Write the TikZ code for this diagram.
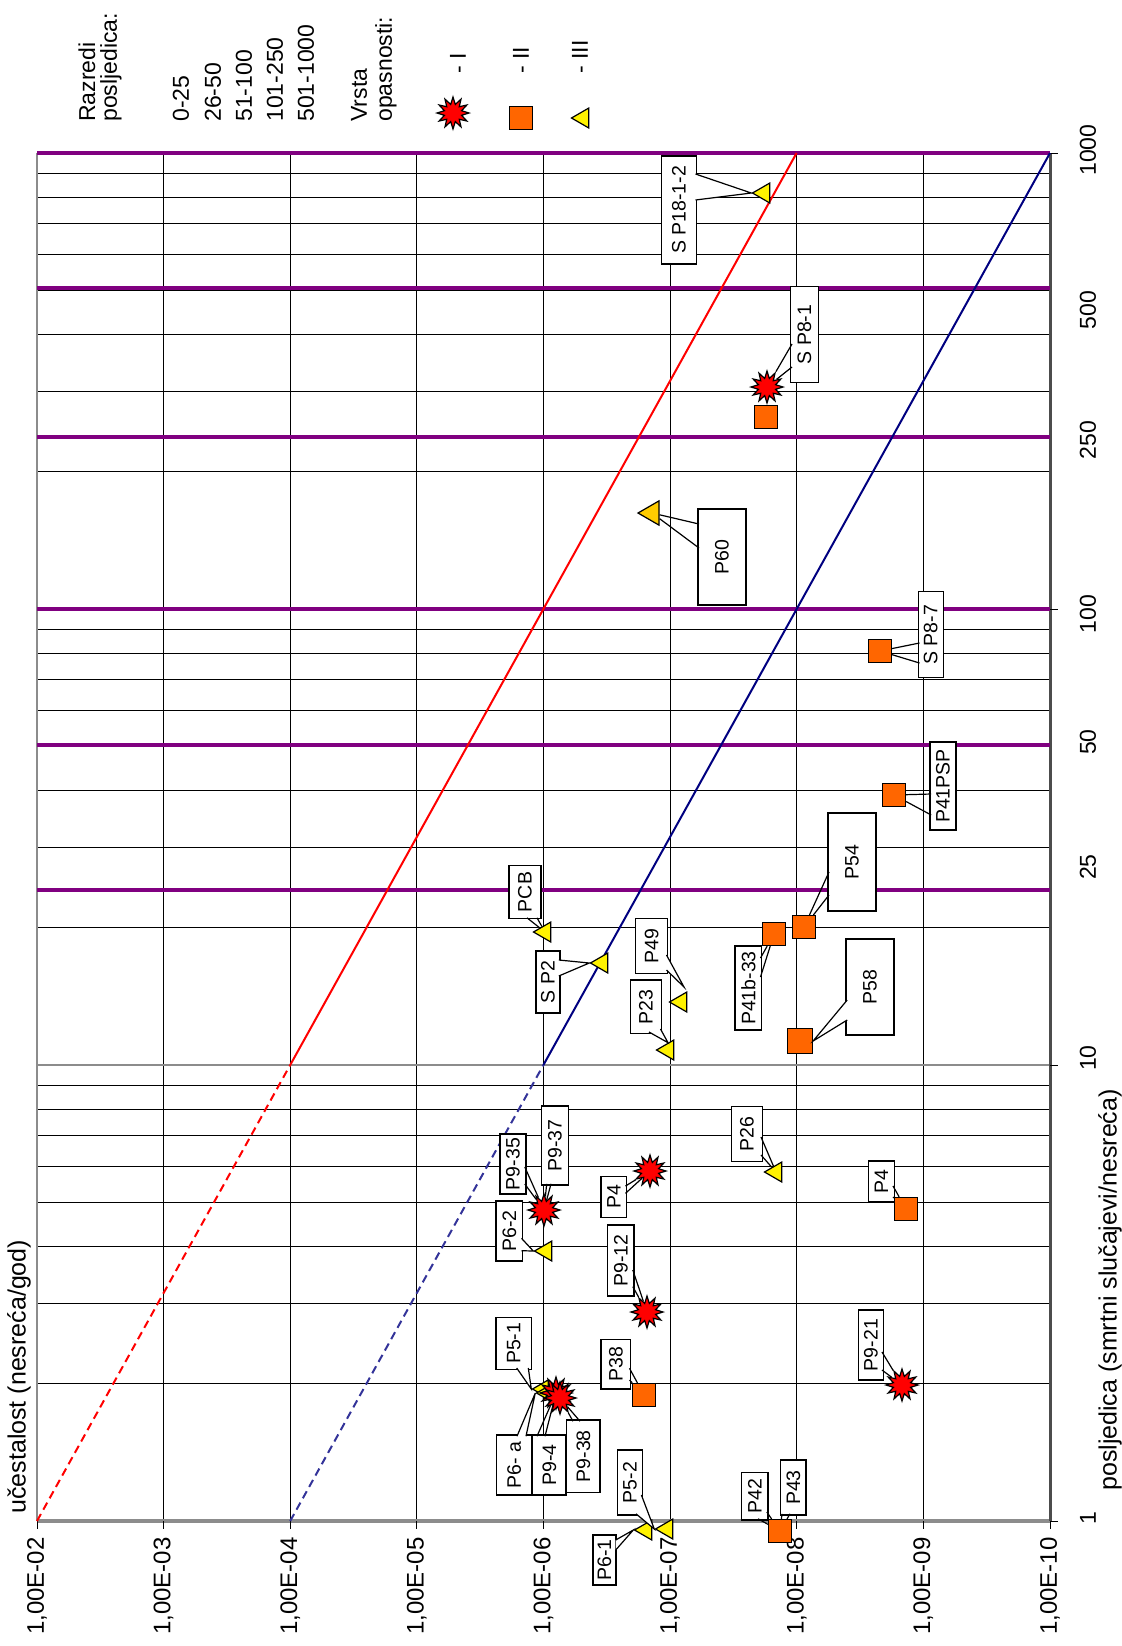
\documentclass[tikz,border=0pt]{standalone}
\usepackage{fontspec}
\setmainfont{Liberation Sans}
\usetikzlibrary{shapes.geometric, calc}
\definecolor{classpurple}{RGB}{128,0,128}
\definecolor{hazorange}{RGB}{255,102,0}
\definecolor{hazgold}{RGB}{255,204,0}
\definecolor{lineblue}{RGB}{0,0,128}
\definecolor{dashblue}{RGB}{51,51,153}
\tikzset{
    grid/.style={draw=black, line width=0.5pt},
    frameline/.style={draw=black!45, line width=1.2pt},
    classline/.style={draw=classpurple, line width=2pt},
    limitred/.style={draw=red, line width=1pt},
    limitblue/.style={draw=lineblue, line width=1pt},
    extrap/.style={dash pattern=on 4pt off 2.5pt},
    hazI/.style={
        star, star points=12, star point ratio=1.8,
        draw=black, line width=0.6pt, fill=red,
        minimum size=16pt, inner sep=0pt
    },
    hazII/.style={
        rectangle, draw=black, line width=0.6pt, fill=hazorange,
        minimum size=11.5pt, inner sep=0pt
    },
    hazIII/.style={
        regular polygon, regular polygon sides=3, shape border rotate=90,
        draw=black, line width=0.6pt, fill=yellow,
        minimum size=11.5pt, inner sep=0pt
    },
    tag/.style={
        rectangle, draw=black, line width=0.6pt, fill=white,
        rotate=90, inner sep=0pt, font=\fontsize{9.75}{11}\selectfont
    },
    wedgeline/.style={draw=black, line width=0.6pt, line join=miter},
    flabel/.style={rotate=90, anchor=east, inner sep=0pt, font=\fontsize{12}{14}\selectfont},
    nlabel/.style={rotate=90, inner sep=0pt, font=\fontsize{11.5}{13}\selectfont},
    axistitle/.style={rotate=90, inner sep=0pt, font=\fontsize{12.5}{15}\selectfont},
    legtext/.style={rotate=90, anchor=west, inner sep=0pt, font=\fontsize{11.5}{13}\selectfont}
}
% white pointer from a label box to its marker
\newcommand{\tagwedge}[3]{%
    \fill[white] #1 -- #3 -- #2 -- cycle;
    \draw[wedgeline] #1 -- #3 -- #2;}

\begin{document}
\begin{tikzpicture}[x=0.5pt, y=-0.5pt]
\useasboundingbox (0,0) rectangle (1122,1646);

% Grid (frequency decades and log consequence lines)
\foreach \i in {1,...,7}
    \draw[grid] ({37+126.625*\i},153) -- ({37+126.625*\i},1521);
\foreach \d in {1,10,100}
    \foreach \k in {2,...,9}
        \draw[grid] (37,{1521-456*ln(\k*\d)/ln(10)}) -- (1050,{1521-456*ln(\k*\d)/ln(10)});
\draw[frameline, line width=1pt] (37,1065) -- (1050,1065);

% Frame and ticks
\draw[frameline] (37,153) -- (37,1521);
\draw[frameline, line width=1.6pt] (37,1521) -- (1050,1521);
\draw[draw=black!70, line width=1.5pt] (1050,153) -- (1050,1521);
\foreach \i in {0,...,8}
    \draw[grid] ({37+126.625*\i},1521) -- ++(0,8);
\foreach \yy in {153,609,1065,1521}
    \draw[grid] (1050,\yy) -- ++(8,0);

% Consequence classes
\foreach \yy in {890,745,609,437,288,153}
    \draw[classline] (37,\yy) -- (1050,\yy);

% Acceptability limits
\coordinate (redA) at (37,1521);
\coordinate (redB) at (290.2,1065);
\coordinate (redC) at (796.6,153);
\coordinate (bluA) at (290.2,1521);
\coordinate (bluB) at (543.4,1065);
\coordinate (bluC) at (1050,153);
\draw[limitred, extrap] (redA) -- (redB);
\draw[limitred] (redB) -- (redC);
\draw[limitblue, draw=dashblue, extrap] (bluA) -- (bluB);
\draw[limitblue] (bluB) -- (bluC);

% Axis labels
\foreach \e [count=\i from 0] in {02,03,04,05,06,07,08,09,10}
    \node[flabel] (f\e) at ({37+126.625*\i},1537) {1,00E-\e};
\foreach \n/\yy in {1/1518,10/1058,25/867,50/742,100/614,250/440,500/310,1000/150}
    \node[nlabel] (n\n) at (1088,\yy) {\n};
\node[axistitle, anchor=west] (ytitle) at (19,1514) {učestalost (nesreća/god)};
\node[axistitle] (xtitle) at (1110,1290) {posljedica (smrtni slučajevi/nesreća)};

% Legend
\node[legtext] (razredi) at (87,122) {Razredi};
\node[legtext] (posljedica) at (111,122) {posljedica:};
\node[legtext] (c1) at (181,122) {0-25};
\node[legtext] (c2) at (213,122) {26-50};
\node[legtext] (c3) at (244,122) {51-100};
\node[legtext] (c4) at (275,122) {101-250};
\node[legtext] (c5) at (306,122) {501-1000};
\node[legtext] (vrsta) at (359,122) {Vrsta};
\node[legtext] (opasnosti) at (386,122) {opasnosti:};
\node[hazI] (legI) at (453,113) {};
\node[hazII] (legII) at (521,118) {};
\node[hazIII] (legIII) at (583,118) {};
\node[legtext] (txtI) at (458,74) {- I};
\node[legtext] (txtII) at (521,74) {- II};
\node[legtext] (txtIII) at (580,74) {- III};

% Markers: type III (triangles)
\node[hazIII] (sp18) at (764,193) {};
\node[hazIII, fill=hazgold, minimum size=14pt] (p60) at (652,513) {};
\node[hazIII] (pcb) at (545,932) {};
\node[hazIII] (sp2) at (602,963) {};
\node[hazIII] (p49) at (681,1002) {};
\node[hazIII] (p23) at (668,1050) {};
\node[hazIII] (p26) at (776,1172) {};
\node[hazIII] (p62) at (546,1251) {};
\node[hazIII, minimum size=10.5pt] (p51) at (543,1389) {};
\node[hazIII, minimum size=10.5pt] (p6a) at (547,1393) {};
\node[hazIII] (p61) at (646,1530) {};
\node[hazIII] (p52) at (667,1529) {};

% Markers: type II (squares)
\node[hazII] (sp81sq) at (766,417) {};
\node[hazII] (sp87) at (880,651) {};
\node[hazII] (p41psp) at (894,795) {};
\node[hazII] (p54) at (804,927) {};
\node[hazII] (p41b) at (774,934) {};
\node[hazII, minimum size=12.5pt] (p58) at (800,1041) {};
\node[hazII] (p4sq) at (906,1209) {};
\node[hazII] (p38) at (644,1395) {};
\node[hazII] (p42) at (780,1531) {};

% Markers: type I (stars)
\node[hazI] (sp81) at (767,387) {};
\node[hazI] (p4st) at (650,1171) {};
\node[hazI] (p912) at (647,1312) {};
\node[hazI] (p921) at (902,1385) {};
\node[hazI] (p935) at (544,1210) {};
\node[hazI] (p94) at (556,1393) {};
\node[hazI] (p938) at (560,1398) {};

% Labels
\node[tag, minimum width=54pt, minimum height=17.5pt] (sp18tag) at (679,210) {S P18-1-2};
\tagwedge{(695.5,174)}{(695.5,200)}{(sp18.corner 1)}
\node[tag, minimum width=48pt, minimum height=14pt] (sp81tag) at (804.5,334.5) {S P8-1};
\tagwedge{(792,344)}{(792,367)}{(sp81)}
\node[tag, minimum width=48pt, minimum height=24pt] (p60tag) at (722,557) {P60};
\tagwedge{(699,524)}{(699,548)}{(p60)}
\node[tag, minimum width=43pt, minimum height=12.5pt] (sp87tag) at (930.7,634.8) {S P8-7};
\tagwedge{(919.5,643)}{(919.5,663)}{(sp87)}
\node[tag, minimum width=44pt, minimum height=13pt] (p41psptag) at (943,786) {P41PSP};
\tagwedge{(931.2,794)}{(931.2,815)}{(p41psp)}
\node[tag, minimum width=49pt, minimum height=24pt] (p54tag) at (852,862) {P54};
\tagwedge{(829,872)}{(829,895)}{(p54)}
\node[tag, minimum width=42pt, minimum height=13.3pt] (p41btag) at (748.3,988) {P41b-33};
\tagwedge{(760.5,958)}{(760.5,977)}{(p41b)}
\node[tag, minimum width=48pt, minimum height=24pt] (p58tag) at (870,987) {P58};
\tagwedge{(847.2,1000)}{(847.2,1020)}{(p58.east)}
\node[tag, minimum width=26.6pt, minimum height=16pt] (pcbtag) at (525,892) {PCB};
\tagwedge{(527,917.8)}{(537,917.8)}{(pcb)}
\node[tag, minimum width=31pt, minimum height=12pt] (sp2tag) at (548,982) {S P2};
\tagwedge{(558.8,960)}{(558.8,976)}{(sp2.corner 1)}
\node[tag, minimum width=27.5pt, minimum height=16pt] (p49tag) at (651.7,946) {P49};
\tagwedge{(666.5,955)}{(666.5,970)}{($(p49)+(3,-15)$)}
\node[tag, minimum width=26.7pt, minimum height=15.8pt] (p23tag) at (646,1006.7) {P23};
\tagwedge{(649,1032)}{(660.5,1029)}{(p23.north)}
\node[tag, minimum width=27.8pt, minimum height=15.3pt] (p26tag) at (747,1134) {P26};
\tagwedge{(761,1137)}{(761,1155)}{(p26)}
\node[tag, minimum width=20.3pt, minimum height=13pt] (p4sqtag) at (881.3,1181.3) {P4};
\tagwedge{(893,1186)}{(893,1197)}{(p4sq)}
\node[tag, minimum width=35pt, minimum height=12.5pt] (p921tag) at (870.8,1345) {P9-21};
\tagwedge{(882,1352)}{(882,1370)}{(p921)}
\node[tag, minimum width=30pt, minimum height=13pt] (p935tag) at (513,1164) {P9-35};
\tagwedge{(524.8,1167)}{(524.8,1184)}{(p935)}
\node[tag, minimum width=39.5pt, minimum height=13.3pt] (p937tag) at (555,1145.5) {P9-37};
\tagwedge{(546.7,1183.8)}{(551,1183.8)}{(p935)}
\node[tag, minimum width=30pt, minimum height=13.3pt] (p62tag) at (509.3,1231) {P6-2};
\tagwedge{(521.5,1238.3)}{(521.5,1250.7)}{(p62.corner 1)}
\node[tag, minimum width=20.3pt, minimum height=12.8pt] (p4sttag) at (613.8,1197) {P4};
\tagwedge{(625.5,1186)}{(625.5,1193.3)}{(p4st)}
\node[tag, minimum width=35.5pt, minimum height=13.2pt] (p912tag) at (620.8,1260.5) {P9-12};
\tagwedge{(632.8,1270)}{(632.8,1286.7)}{(p912)}
\node[tag, minimum width=26pt, minimum height=17.8pt] (p51tag) at (513.8,1343.3) {P5-1};
\tagwedge{(516.7,1368)}{(528.3,1368)}{(p51.corner 1)}
\node[tag, minimum width=24.8pt, minimum height=14.8pt] (p38tag) at (615.8,1364.2) {P38};
\tagwedge{(629.5,1368.3)}{(629.5,1380)}{(p38)}
\node[tag, minimum width=30pt, minimum height=17.5pt] (p6atag) at (514.2,1465) {P6- a};
\tagwedge{(517,1436.2)}{(526,1436.2)}{(p6a.corner 1)}
\node[tag, minimum width=30pt, minimum height=16.7pt] (p94tag) at (549.3,1465) {P9-4};
\tagwedge{(537,1436.2)}{(545,1436.2)}{(p94)}
\node[tag, minimum width=36.3pt, minimum height=16.7pt] (p938tag) at (583.3,1456.3) {P9-38};
\tagwedge{(573,1421.2)}{(580,1421.2)}{(p938)}
\node[tag, minimum width=32.5pt, minimum height=12.5pt] (p52tag) at (630,1482.5) {P5-2};
\tagwedge{(641.4,1495)}{(636,1513.8)}{(p52.corner 1)}
\node[tag, minimum width=25pt, minimum height=11.5pt] (p61tag) at (604.5,1560) {P6-1};
\tagwedge{(615.7,1540)}{(615.7,1550)}{(p61.corner 1)}
\node[tag, minimum width=23.7pt, minimum height=13.3pt] (p42tag) at (754.7,1496.3) {P42};
\tagwedge{(758,1518.8)}{(766.8,1512)}{(p42)}
\node[tag, minimum width=27.5pt, minimum height=12.6pt] (p43tag) at (793.4,1487.5) {P43};
\tagwedge{(782,1513.8)}{(790,1513.8)}{(p42)}

\end{tikzpicture}
\end{document}
